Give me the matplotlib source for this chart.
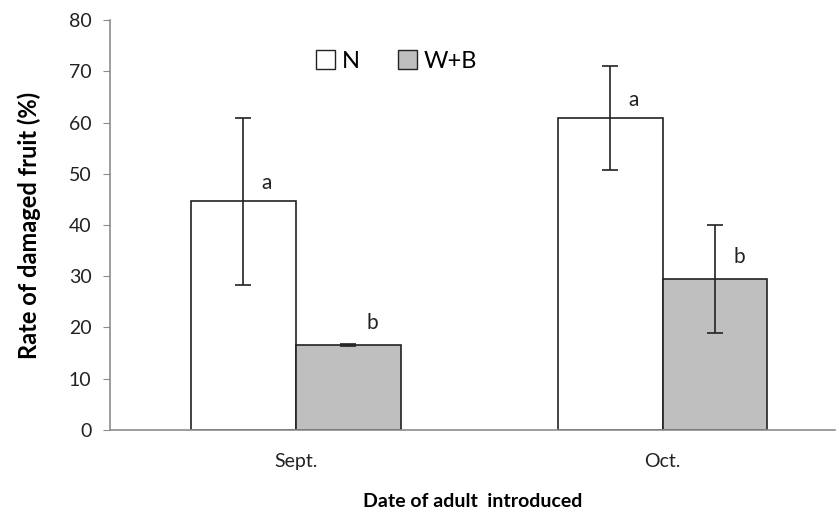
import matplotlib

matplotlib.use("Agg")

import matplotlib.pyplot as plt
import numpy as np
from matplotlib.patches import Patch

plt.rcParams["font.family"] = ["Lato", "DejaVu Sans"]

categories = ["Sept.", "Oct."]
series_names = ["N", "W+B"]
n_values = [44.6, 60.9]
n_errors = [16.3, 10.2]
wb_values = [16.6, 29.5]
wb_errors = [0.2, 10.5]
n_letters = ["a", "a"]
wb_letters = ["b", "b"]

x = np.arange(len(categories))
width = 0.286
grey = "#8c8c8c"

fig = plt.figure(figsize=(8.37, 5.16), dpi=100)
ax = fig.add_axes([0.131, 0.167, 0.867, 0.794])

err_kw = dict(ecolor="#222222", elinewidth=1.2, capsize=6, capthick=1.2)
ax.bar(x - width / 2, n_values, width, yerr=n_errors, color="white",
       edgecolor="#222222", linewidth=1.2, error_kw=err_kw, label=series_names[0])
ax.bar(x + width / 2, wb_values, width, yerr=wb_errors, color="#bfbfbf",
       edgecolor="#222222", linewidth=1.2, error_kw=err_kw, label=series_names[1])

for xi, v, s in zip(x - width / 2, n_values, n_letters):
    ax.text(xi + 0.065, v + 3.5, s, fontsize=15, ha="center", va="center", color="#222222")
for xi, v, s in zip(x + width / 2, wb_values, wb_letters):
    ax.text(xi + 0.065, v + 4.3, s, fontsize=15, ha="center", va="center", color="#222222")

ax.set_xlim(-0.507, 1.471)
ax.set_ylim(0, 80)
ax.set_yticks(np.arange(0, 81, 10))
ax.set_xticks(x, categories)
ax.tick_params(axis="y", direction="out", length=5, color=grey, labelsize=14,
               labelcolor="#222222", pad=8)
ax.tick_params(axis="x", length=0, labelsize=14, labelcolor="#222222", pad=17)

for side in ["top", "right"]:
    ax.spines[side].set_visible(False)
ax.spines["left"].set_color(grey)
ax.spines["bottom"].set_color(grey)
ax.spines["left"].set_linewidth(1.2)
ax.spines["bottom"].set_linewidth(1.2)

ax.set_ylabel("Rate of damaged fruit (%)", fontsize=17, fontweight="bold", labelpad=20)
ax.set_xlabel("Date of adult  introduced", fontsize=14, fontweight="bold", labelpad=16)

handles = [Patch(facecolor="white", edgecolor="#222222", label=series_names[0]),
           Patch(facecolor="#bfbfbf", edgecolor="#222222", label=series_names[1])]
ax.legend(handles=handles, loc="center left", bbox_to_anchor=(0.255, 0.9), ncol=2,
          frameon=False, fontsize=17, handlelength=0.8, handleheight=0.8,
          handletextpad=0.3, columnspacing=1.6)

fig.savefig("out.png", dpi=100)
